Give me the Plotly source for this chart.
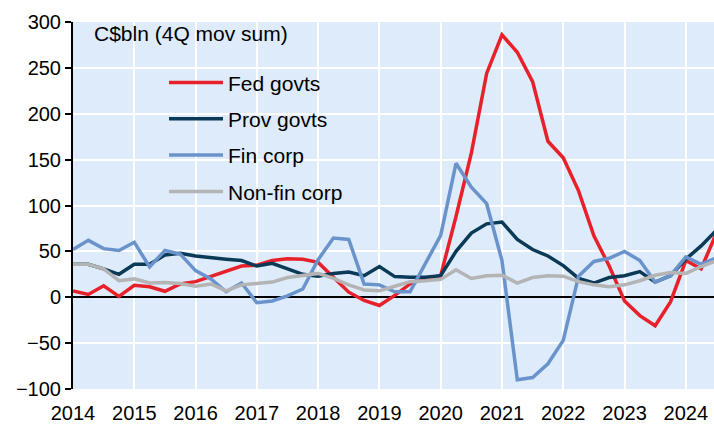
import plotly.graph_objects as go

quarters = [2014 + i / 4 for i in range(43)]

fed_govts = [7, 3, 12.5, 1, 13, 11.5, 6.5, 14.5, 17, 23, 28, 34, 35, 40, 42, 41.5,
             38, 22, 5.5, -3.5, -9, 2, 14.5, 20.5, 23.5, 88, 157, 244, 286, 267,
             235, 170, 152, 116, 67, 34, -4, -20, -31, -5, 40, 31, 70]
prov_govts = [36, 36, 31, 25, 36, 36, 46, 48, 45, 43, 41.5, 40, 34, 37, 31, 25,
              23, 26, 27.5, 23.5, 33.5, 22.5, 21.7, 21.7, 23.5, 50, 70, 80, 82, 63,
              52, 45, 34.5, 20.5, 15.5, 21.5, 23.5, 28, 16.5, 23.5, 41.5, 56, 73]
fin_corp = [52, 62, 53, 51, 60, 33, 51, 47, 29, 20, 6, 15.5, -6, -4, 1.5, 9,
            41, 64.5, 63, 14.5, 13.5, 6, 6, 36, 67.5, 146, 120, 102, 40, -90,
            -87.5, -72.5, -47, 23, 39, 42.5, 50, 40, 16.5, 23.5, 44, 36, 43]
nonfin_corp = [36, 36, 31, 18, 20, 15.5, 16, 15, 12, 14.5, 7, 13.5, 15, 16.5, 21.5, 23.5,
               26, 20.5, 13.5, 8, 7, 12, 17, 18, 19.5, 30, 20.5, 23.5, 24, 15.5,
               21.5, 23.5, 23, 17, 13.5, 11.5, 13.5, 18, 24, 27, 26, 33.5, 40]

year_ticks = list(range(2014, 2025))
y_ticks = list(range(-100, 301, 50))

series = [
    ("Fed govts", fed_govts, "#E8202A"),
    ("Prov govts", prov_govts, "#0B3A56"),
    ("Fin corp", fin_corp, "#6B93CB"),
    ("Non-fin corp", nonfin_corp, "#B4B4B4"),
]

FONT = "Liberation Sans, Arial, sans-serif"

fig = go.Figure()
for name, vals, col in series:
    fig.add_trace(go.Scatter(
        x=quarters, y=vals, mode="lines", name=name, legendgroup=name,
        line=dict(color=col, width=3.5), cliponaxis=True,
    ))

xr = [2014, 2024.46]

fig.update_layout(
    width=714, height=424,
    margin=dict(l=73, r=0, t=22, b=35, autoexpand=False),
    paper_bgcolor="white",
    plot_bgcolor="#DDEBFB",
    font=dict(family=FONT, size=20, color="black"),
    showlegend=True,
    legend=dict(
        x=0.142, y=0.89, xanchor="left", yanchor="top",
        bgcolor="rgba(0,0,0,0)", borderwidth=0,
        font=dict(family=FONT, size=21, color="black"),
        itemwidth=54, tracegroupgap=6,
    ),
    xaxis=dict(
        range=xr, tickvals=year_ticks, ticktext=[str(y) for y in year_ticks],
        showgrid=True, gridcolor="white", gridwidth=2,
        zeroline=False, showline=False, automargin=False,
        ticks="outside", ticklen=6, tickcolor="rgba(0,0,0,0)",
        tickfont=dict(family=FONT, size=20, color="black"),
    ),
    xaxis2=dict(
        overlaying="x", anchor="free", position=0.25, side="bottom",
        range=xr, tickvals=year_ticks, showticklabels=False,
        showgrid=False, zeroline=False, automargin=False,
        showline=True, linecolor="black", linewidth=1.5,
        ticks="outside", ticklen=5, tickwidth=1.5, tickcolor="black",
    ),
    yaxis=dict(
        range=[-100, 300], tickvals=y_ticks, automargin=False,
        showgrid=True, gridcolor="white", gridwidth=2,
        zeroline=True, zerolinecolor="black", zerolinewidth=1.5,
        showline=True, linecolor="black", linewidth=2,
        ticks="outside", ticklen=6, tickwidth=1.5, tickcolor="black",
        tickfont=dict(family=FONT, size=20, color="black"),
    ),
    annotations=[dict(
        text="C$bln (4Q mov sum)", xref="paper", yref="paper",
        x=0.029, y=0.97, xanchor="left", yanchor="middle", showarrow=False,
        font=dict(family=FONT, size=21, color="black"),
    )],
)

fig.write_html(
    "out.html",
    config={"displayModeBar": False},
    post_script="document.body.style.margin='0';document.body.style.padding='0';",
)
